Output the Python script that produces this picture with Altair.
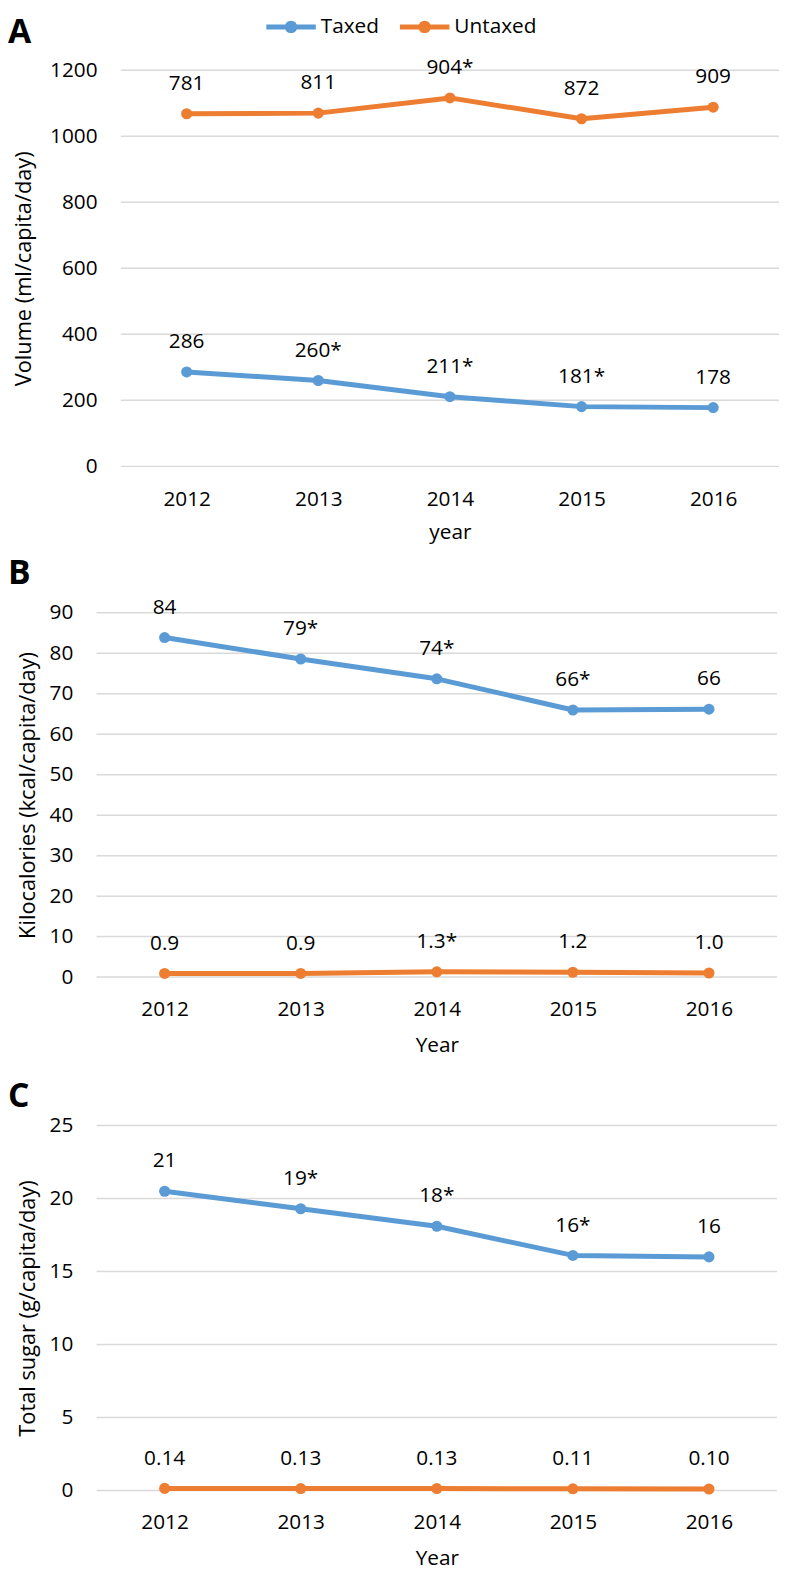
import altair as alt
import pandas as pd

# ---------------- data ----------------
years = ["2012", "2013", "2014", "2015", "2016"]
series = ["Taxed", "Untaxed"]

a_taxed = [286, 260, 211, 181, 178]
a_untaxed = [1068, 1070, 1116, 1053, 1088]
a_taxed_labels = ["286", "260*", "211*", "181*", "178"]
a_untaxed_labels = ["781", "811", "904*", "872", "909"]
a_ticks = [0, 200, 400, 600, 800, 1000, 1200]

b_taxed = [83.9, 78.6, 73.7, 66.0, 66.2]
b_untaxed = [0.9, 0.9, 1.3, 1.2, 1.0]
b_taxed_labels = ["84", "79*", "74*", "66*", "66"]
b_untaxed_labels = ["0.9", "0.9", "1.3*", "1.2", "1.0"]
b_ticks = [0, 10, 20, 30, 40, 50, 60, 70, 80, 90]

c_taxed = [20.5, 19.3, 18.1, 16.1, 16.0]
c_untaxed = [0.14, 0.13, 0.13, 0.11, 0.10]
c_taxed_labels = ["21", "19*", "18*", "16*", "16"]
c_untaxed_labels = ["0.14", "0.13", "0.13", "0.11", "0.10"]
c_ticks = [0, 5, 10, 15, 20, 25]

panel_letters = ["A", "B", "C"]
y_titles = ["Volume (ml/capita/day)", "Kilocalories (kcal/capita/day)", "Total sugar (g/capita/day)"]
x_titles = ["year", "Year", "Year"]

# ---------------- style ----------------
FONT = "Open Sans"
TXT = "#000000"
COLORS = ["#5B9BD5", "#ED7D31"]
GRID = "#d9d9d9"
W, H = 779, 1567

color_scale = alt.Scale(domain=series, range=COLORS)

LEGEND_SYMBOL = ("M-1,-0.1H1V0.1H-1Z"
                 "M-0.25,0A0.25,0.25,0,1,1,0.25,0A0.25,0.25,0,1,1,-0.25,0Z")

legend = alt.Legend(
    orient="none", legendX=261, legendY=-14, direction="horizontal", title=None,
    symbolType=LEGEND_SYMBOL, symbolSize=2500, symbolStrokeWidth=0, symbolOpacity=1,
    labelFont=FONT, labelFontSize=21, labelColor=TXT, labelOffset=5,
    columnPadding=21, padding=0,
)


def panel_df(taxed, untaxed, tl, ul):
    rows = []
    for s, vals, labs in (("Taxed", taxed, tl), ("Untaxed", untaxed, ul)):
        for yr, v, lab in zip(years, vals, labs):
            rows.append({"year": yr, "series": s, "value": v, "label": lab})
    return pd.DataFrame(rows)


def make_panel(df, ticks, x_rng, y_rng, y_title, x_title, title_x,
               lab_pad, title_dy):
    def xs():
        return alt.Scale(type="point", domain=years, range=x_rng, padding=0.5)

    def ys():
        return alt.Scale(domain=[ticks[0], ticks[-1]], range=y_rng, nice=False, zero=False)

    y_axis = alt.Axis(
        values=ticks, format="d", orient="left", offset=-x_rng[0], domain=False,
        ticks=False, tickSize=0, grid=False, labelPadding=24, labelFont=FONT,
        labelFontSize=21, labelColor=TXT, labelFlush=False, title=y_title,
        titleFont=FONT, titleFontSize=22, titleFontWeight="normal", titleColor=TXT,
        titleX=title_x - x_rng[0], titleBaseline="middle",
    )
    x_axis = alt.Axis(
        orient="bottom", offset=-(H - y_rng[0]), domain=False, ticks=False,
        tickSize=0, grid=False, labelAngle=0, labelPadding=lab_pad,
        labelBaseline="middle", labelFont=FONT, labelFontSize=21, labelColor=TXT,
        title=x_title, titleFont=FONT, titleFontSize=21, titleFontWeight="normal",
        titleColor=TXT, titleY=title_dy, titleBaseline="middle",
    )

    grid = alt.Chart(pd.DataFrame({"v": ticks})).mark_rule(
        color=GRID, strokeWidth=1.5
    ).encode(
        y=alt.Y("v:Q", scale=ys(), axis=y_axis),
        x=alt.value(x_rng[0]),
        x2=alt.value(x_rng[1]),
    )

    base = alt.Chart(df)
    dots = base.mark_circle(size=125, opacity=1).encode(
        x=alt.X("year:O", scale=xs(), axis=None),
        y=alt.Y("value:Q", scale=ys(), axis=None),
        color=alt.Color("series:N", scale=color_scale, legend=legend),
    )
    lines = base.mark_line(strokeWidth=5, strokeCap="round", strokeJoin="round").encode(
        x=alt.X("year:O", scale=xs(), axis=x_axis),
        y=alt.Y("value:Q", scale=ys(), axis=None),
        color=alt.Color("series:N", scale=color_scale, legend=legend),
    )
    labels = base.mark_text(
        dy=-30, font=FONT, fontSize=21, color=TXT, baseline="middle", align="center"
    ).encode(
        x=alt.X("year:O", scale=xs(), axis=None),
        y=alt.Y("value:Q", scale=ys(), axis=None),
        text="label:N",
    )
    return [grid, dots, lines, labels]


layers = []
layers += make_panel(panel_df(a_taxed, a_untaxed, a_taxed_labels, a_untaxed_labels),
                     a_ticks, [114, 779], [455, 54.7], y_titles[0], x_titles[0], 16,
                     34, 67)
layers += make_panel(panel_df(b_taxed, b_untaxed, b_taxed_labels, b_untaxed_labels),
                     b_ticks, [89.5, 777], [971, 603], y_titles[1], x_titles[1], 20,
                     33, 69)
layers += make_panel(panel_df(c_taxed, c_untaxed, c_taxed_labels, c_untaxed_labels),
                     c_ticks, [89.5, 777], [1489.7, 1121], y_titles[2], x_titles[2], 20,
                     32, 69)


def letter(txt, y):
    return alt.Chart(alt.Data(values=[{}])).mark_text(
        font=FONT, fontSize=34, fontWeight="bold", align="left", baseline="middle",
        color="#000"
    ).encode(x=alt.value(0), y=alt.value(y), text=alt.value(txt))


layers += [letter(panel_letters[0], 17), letter(panel_letters[1], 564),
           letter(panel_letters[2], 1092)]

chart = alt.layer(*layers).resolve_scale(
    x="independent", y="independent"
).resolve_axis(
    x="independent", y="independent"
).properties(
    width=W, height=H, autosize=alt.AutoSizeParams(type="none"), padding=0
).configure_view(strokeWidth=0)

chart.save("out.html", embed_options={"renderer": "svg", "actions": False})
